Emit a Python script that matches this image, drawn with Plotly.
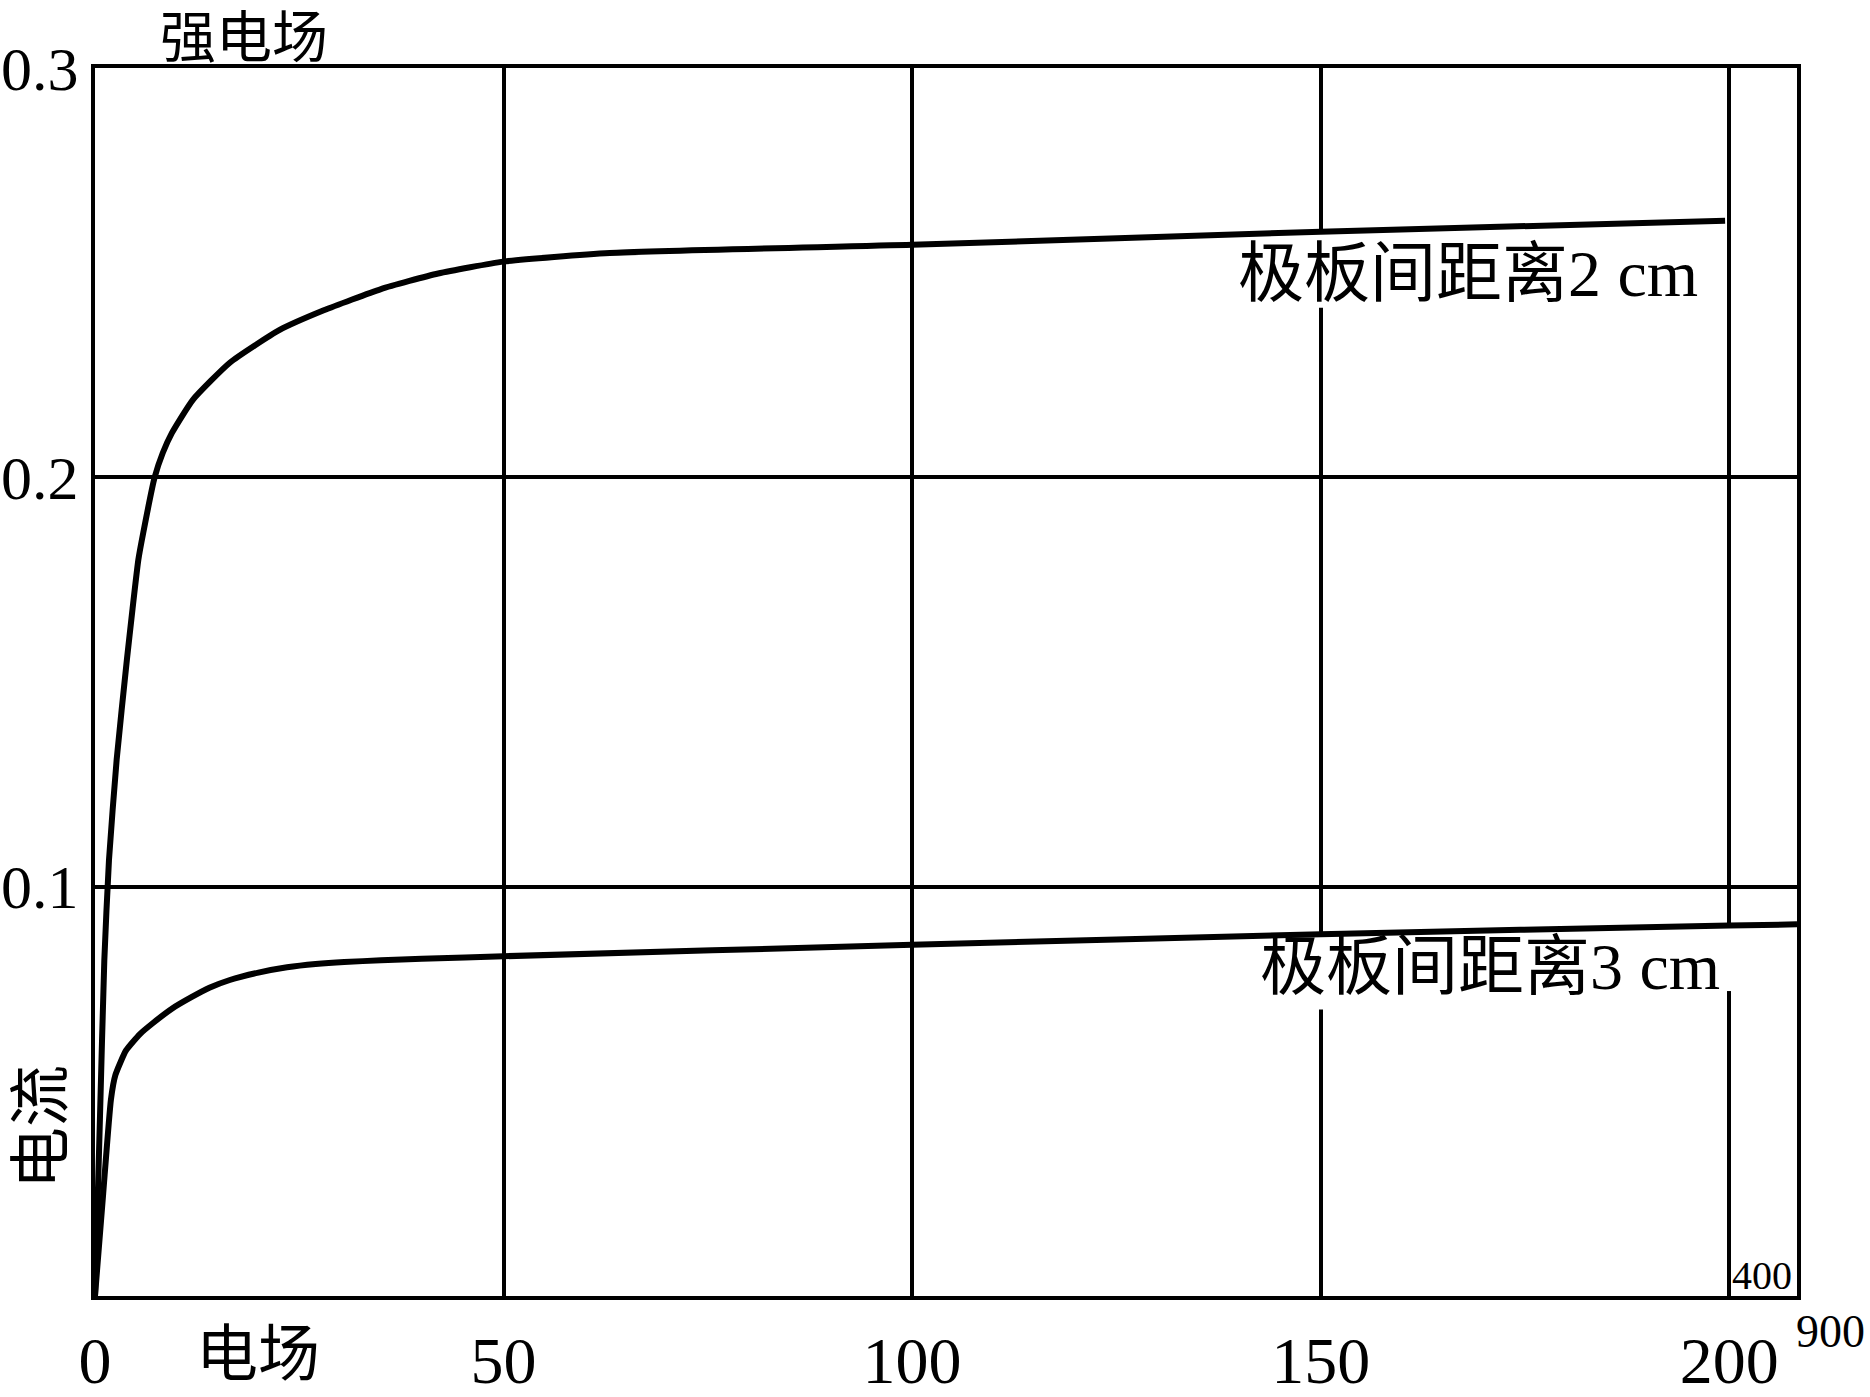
import plotly.graph_objects as go

# 电场 vs 电流, two plate spacings
field_2cm = [0, 0.6, 1.14, 1.71, 2.65, 3.9, 4.6, 5.3, 5.9, 7.3, 8.3, 9.4,
             12.0, 16.5, 22.6, 28, 35, 42, 50, 63, 100, 150, 199.5]
current_2cm = [0, 0.043, 0.082, 0.1065, 0.131, 0.1554, 0.168, 0.1798, 0.1864,
               0.200, 0.206, 0.2108, 0.219, 0.228, 0.236, 0.2408, 0.2460,
               0.2498, 0.2527, 0.2548, 0.2568, 0.2600, 0.2627]

field_3cm = [0, 1.0, 1.95, 2.5, 3.8, 5.5, 7.1, 9.5, 11.8, 14, 16.5, 20, 23.5,
             27, 30.5, 35, 40, 50, 100, 150, 200, 208.3]
current_3cm = [0, 0.025, 0.048, 0.054, 0.060, 0.064, 0.0667, 0.0703, 0.073,
               0.0753, 0.0772, 0.0790, 0.0803, 0.0811, 0.0816, 0.0820, 0.0824,
               0.0830, 0.0858, 0.0884, 0.0905, 0.0908]

x_ticks = [0, 50, 100, 150, 200]
y_ticks = [0.1, 0.2, 0.3]
y_labels = ["0.1", "0.2", "0.3"]

label_2cm = "极板间距离2 cm"
label_3cm = "极板间距离3 cm"

serif = "Liberation Serif, Noto Sans CJK SC"

fig = go.Figure()
for xs, ys in [(field_2cm, current_2cm), (field_3cm, current_3cm)]:
    fig.add_trace(go.Scatter(x=xs, y=ys, mode="lines",
                             line=dict(color="black", width=6,
                                       shape="spline", smoothing=0.5)))

# white patches behind the curve labels (hide the grid, stay under the curves)
fig.add_shape(type="rect", xref="x", yref="y", x0=139.5, x1=197, y0=0.2414,
              y1=0.2595, fillcolor="white", line_width=0, layer="between")
fig.add_shape(type="rect", xref="x", yref="y", x0=142, x1=199.7, y0=0.0700,
              y1=0.0880, fillcolor="white", line_width=0, layer="between")
fig.add_shape(type="rect", xref="x", yref="y", x0=199.7, x1=200.4, y0=0.0745,
              y1=0.0900, fillcolor="white", line_width=0, layer="between")

ann = dict(showarrow=False, xanchor="center", yanchor="middle",
           font=dict(family=serif, size=66, color="black"))
fig.add_annotation(x=168.0, y=0.2497, text=label_2cm, **ann)
fig.add_annotation(x=170.7, y=0.0804, text=label_3cm, **ann)

edge = dict(showarrow=False, xanchor="center", yanchor="middle",
            font=dict(family=serif, size=62, color="black"))
fig.add_annotation(x=18.2, xref="x", y=1.0244, yref="paper", text="强电场",
                   showarrow=False, xanchor="center", yanchor="middle",
                   font=dict(family=serif, size=56, color="black"))
fig.add_annotation(x=20.0, xref="x", y=-0.048, yref="paper", text="电场", **edge)
fig.add_annotation(x=-0.0311, xref="paper", y=0.1376, yref="paper",
                   text="电流", textangle=-90, **edge)

small = dict(showarrow=False, xanchor="center", yanchor="middle")
fig.add_annotation(x=204.0, y=0.0049, text="400",
                   font=dict(family=serif, size=40, color="black"), **small)
fig.add_annotation(x=1.0194, xref="paper", y=-0.0293, yref="paper", text="900",
                   font=dict(family=serif, size=46, color="black"), **small)

axis_common = dict(showgrid=True, gridcolor="black", gridwidth=3.5,
                   showline=True, linecolor="black", linewidth=4, mirror=True,
                   zeroline=False, ticks="", automargin=False)

fig.update_layout(
    width=1870, height=1397,
    paper_bgcolor="white", plot_bgcolor="white",
    showlegend=False,
    margin=dict(l=95, r=73, t=68, b=101),
    xaxis=dict(range=[0, 208.3], tickvals=x_ticks, ticklabelstandoff=4,
               tickfont=dict(family=serif, size=66, color="black"),
               **axis_common),
    yaxis=dict(range=[0, 0.3], tickvals=y_ticks, ticktext=y_labels,
               ticklabelstandoff=0,
               tickfont=dict(family=serif, size=62, color="black"),
               **axis_common),
)

# page body has a default margin; drop it so the figure sits at the corner
fig.write_html("out.html", config={"displayModeBar": False},
               post_script="document.body.style.margin='0';")
